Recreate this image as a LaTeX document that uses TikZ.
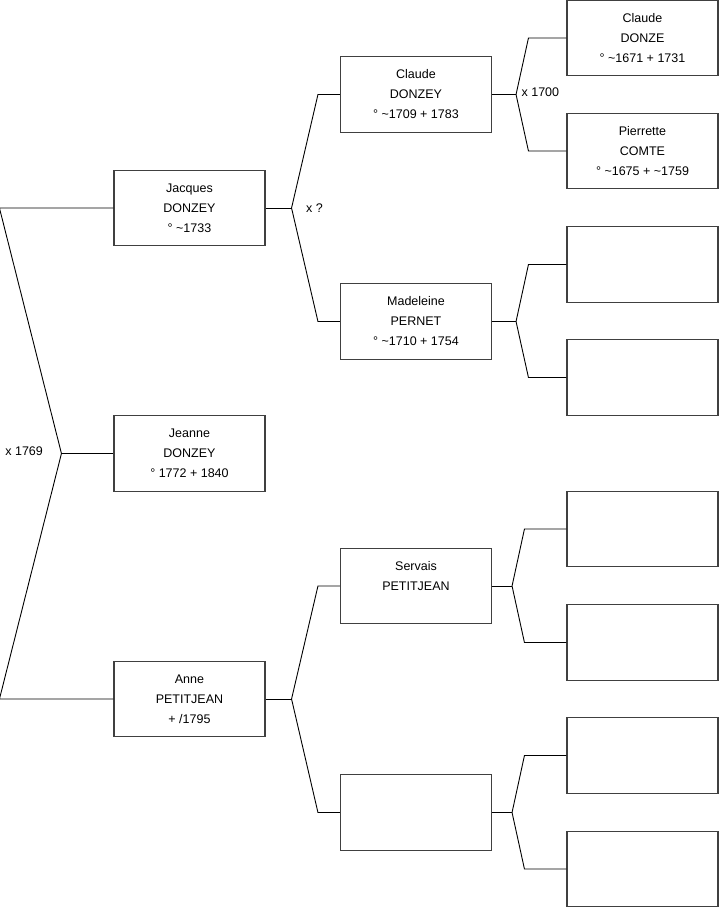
\documentclass[tikz,border=0pt]{standalone}
\usepackage{fontspec}
\setmainfont{Liberation Sans}
\usetikzlibrary{positioning,calc}

\begin{document}
\begin{tikzpicture}[x=1pt, y=-1pt, font=\fontsize{12.5}{20}\selectfont,
  every node/.style={align=center},
  person/.style={draw=black!75, line width=1.1pt, minimum width=151pt, minimum height=75.5pt, inner sep=0pt},
  link/.style={black, line width=0.9pt}]
  \useasboundingbox (0,0) rectangle (719,908);
  % generation 1
  \node[person] (jacques) at (189.5,208) {Jacques\\DONZEY\\° \textasciitilde1733};
  \node[person] (jeanne) at (189.5,453.5) {Jeanne\\DONZEY\\° 1772 + 1840};
  \node[person] (anne) at (189.5,699) {Anne\\PETITJEAN\\+ /1795};
  % generation 2
  \node[person] (claude) at (416,94.5) {Claude\\DONZEY\\° \textasciitilde1709 + 1783};
  \node[person] (madeleine) at (416,321.5) {Madeleine\\PERNET\\° \textasciitilde1710 + 1754};
  \node[person] (servais) at (416,586) {Servais\\PETITJEAN\\\mbox{}};
  \node[person] (annemother) at (416,812.5) {};
  % generation 3
  \node[person] (claudefather) at (642.5,38) {Claude\\DONZE\\° \textasciitilde1671 + 1731};
  \node[person] (pierrette) at (642.5,151) {Pierrette\\COMTE\\° \textasciitilde1675 + \textasciitilde1759};
  \node[person] (madfather) at (642.5,264.5) {};
  \node[person] (madmother) at (642.5,377.5) {};
  \node[person] (servfather) at (642.5,529) {};
  \node[person] (servmother) at (642.5,642.5) {};
  \node[person] (amfather) at (642.5,755.5) {};
  \node[person] (ammother) at (642.5,869) {};

  % root couple
  \draw[link] (jacques.west) -- ++(-114,0) coordinate (rtop)
    -- ($(jeanne.west)+(-52,0)$) coordinate (rmid)
    -- (anne.west -| rtop) -- (anne.west);
  \draw[link] (rmid) -- (jeanne.west);
  \node[anchor=east] (m1769) at ($(rmid)+(-15,-2)$) {x 1769};

  % parents of Jacques
  \draw[link] (jacques.east) -- ++(26,0) coordinate (jx);
  \draw[link] (claude.west) -- ++(-22,0) -- (jx) -- ($(madeleine.west)+(-22,0)$) -- (madeleine.west);
  \node[anchor=west] (mq) at ($(jx)+(11,0)$) {x ?};

  % parents of Anne
  \draw[link] (anne.east) -- ++(26,0) coordinate (ax);
  \draw[link] (servais.west) -- ++(-22,0) -- (ax) -- ($(annemother.west)+(-22,0)$) -- (annemother.west);

  % parents of Claude
  \draw[link] (claude.east) -- ++(24,0) coordinate (cx);
  \draw[link] (claudefather.west) -- ++(-38,0) -- (cx) -- ($(pierrette.west)+(-38,0)$) -- (pierrette.west);
  \node[anchor=west] (m1700) at ($(cx)+(2,-2)$) {x 1700};

  % parents of Madeleine
  \draw[link] (madeleine.east) -- ++(24,0) coordinate (mx);
  \draw[link] (madfather.west) -- ++(-38,0) -- (mx) -- ($(madmother.west)+(-38,0)$) -- (madmother.west);

  % parents of Servais
  \draw[link] (servais.east) -- ++(20,0) coordinate (sx);
  \draw[link] (servfather.west) -- ++(-42,0) -- (sx) -- ($(servmother.west)+(-42,0)$) -- (servmother.west);

  % parents of the mother of Anne
  \draw[link] (annemother.east) -- ++(20,0) coordinate (ux);
  \draw[link] (amfather.west) -- ++(-42,0) -- (ux) -- ($(ammother.west)+(-42,0)$) -- (ammother.west);
\end{tikzpicture}
\end{document}
